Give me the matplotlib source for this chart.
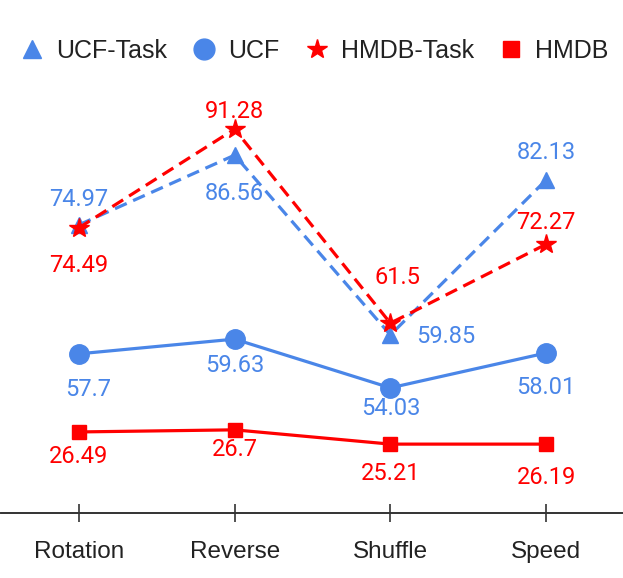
import matplotlib
matplotlib.use("Agg")
import matplotlib.pyplot as plt  # noqa: E402
from matplotlib.lines import Line2D  # noqa: E402

plt.rcParams.update({"font.family": ["Roboto", "DejaVu Sans"], "font.size": 17})

BLUE, RED, INK = "#4a86e8", "#ff0000", "#222222"
SANS = ["Liberation Sans", "DejaVu Sans"]

tasks = ["Rotation", "Reverse", "Shuffle", "Speed"]

# plotted heights (axis line = 0)
ucf_task = [68.6, 85.2, 42.4, 79.3]
ucf = [37.9, 41.4, 29.8, 38.1]
hmdb_task = [67.9, 91.4, 45.2, 64.0]
hmdb = [19.3, 19.8, 16.4, 16.4]

# printed value labels
ucf_task_lbl = ["74.97", "86.56", "59.85", "82.13"]
ucf_lbl = ["57.7", "59.63", "54.03", "58.01"]
hmdb_task_lbl = ["74.49", "91.28", "61.5", "72.27"]
hmdb_lbl = ["26.49", "26.7", "25.21", "26.19"]

# label offsets in pixels (dx, dy up-positive)
off_ucf_task = [(0, 25), (0, -38), (55, -2), (0, 27)]
off_ucf = [(9, -36), (0, -26), (0, -21), (0, -35)]
off_hmdb_task = [(0, -38), (0, 18), (7, 46), (0, 22)]
off_hmdb = [(0, -25), (0, -20), (0, -29), (0, -33)]


def main():
    fig = plt.figure(figsize=(6.23, 5.78), dpi=100)
    ax = fig.add_axes([1 / 623, 65 / 578, 1.0, 420 / 578])
    x = range(len(tasks))

    ax.plot(x, ucf_task, "--", color=BLUE, lw=2.3, dashes=(4, 2.2),
            marker="^", ms=11, zorder=3)
    ax.plot(x, hmdb_task, "--", color=RED, lw=2.3, dashes=(4, 2.2),
            marker="*", ms=15, zorder=4)
    ax.plot(x, ucf, "-", color=BLUE, lw=2.3, marker="o", ms=14, zorder=3)
    ax.plot(x, hmdb, "-", color=RED, lw=2.3, marker="s", ms=10, zorder=3)

    for ys, lbls, offs, c in [(ucf_task, ucf_task_lbl, off_ucf_task, BLUE),
                              (ucf, ucf_lbl, off_ucf, BLUE),
                              (hmdb_task, hmdb_task_lbl, off_hmdb_task, RED),
                              (hmdb, hmdb_lbl, off_hmdb, RED)]:
        for i, (y, s, o) in enumerate(zip(ys, lbls, offs)):
            ax.annotate(s, (i, y), xytext=o, textcoords="offset pixels",
                        ha="center", va="center", color=c, fontsize=17)

    ax.set_xlim(-0.5, 3.5)
    ax.set_ylim(0, 100)
    ax.set_xticks(list(x))
    ax.set_xticklabels(tasks, family=SANS)
    ax.tick_params(axis="x", direction="inout", length=13, width=1.2,
                   color="#333333", pad=14, labelsize=17.5, labelcolor=INK)
    ax.set_yticks([])
    for sp in ("top", "right", "left"):
        ax.spines[sp].set_visible(False)
    ax.spines["bottom"].set_linewidth(1.4)
    ax.spines["bottom"].set_color("#333333")

    handles = [
        Line2D([], [], ls="none", marker="^", ms=13, color=BLUE),
        Line2D([], [], ls="none", marker="o", ms=15, color=BLUE),
        Line2D([], [], ls="none", marker="*", ms=15, color=RED),
        Line2D([], [], ls="none", marker="s", ms=11, color=RED),
    ]
    leg = fig.legend(handles, ["UCF-Task", "UCF", "HMDB-Task", "HMDB"],
                     loc="center", bbox_to_anchor=(0.505, 1 - 51 / 578),
                     ncol=4, frameon=False, handlelength=0.9,
                     handletextpad=0.5, columnspacing=1.05,
                     prop={"family": SANS, "size": 18})
    for t in leg.get_texts():
        t.set_color(INK)

    fig.savefig("out.png", dpi=100)


if __name__ == "__main__":
    main()
